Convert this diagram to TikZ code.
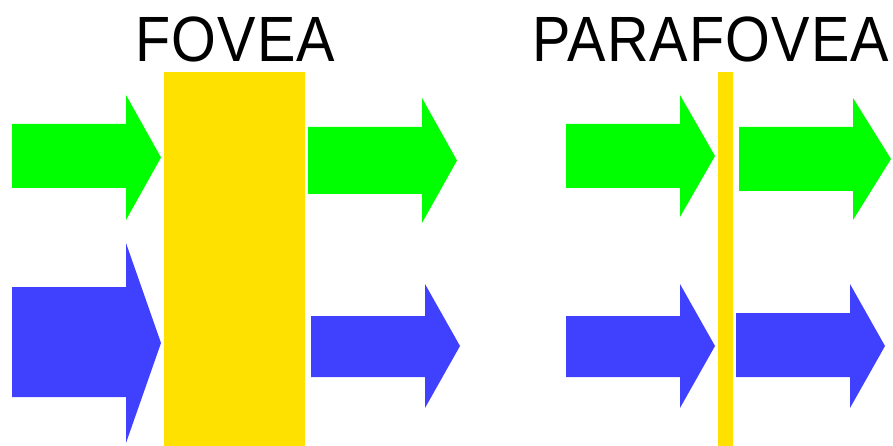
\documentclass[tikz,border=0pt]{standalone}
\usepackage{fontspec}
\setmainfont{Liberation Sans}
\usetikzlibrary{positioning}

\definecolor{fovgreen}{HTML}{00FF00}
\definecolor{fovblue}{HTML}{4040FF}
\definecolor{fovyellow}{HTML}{FFE100}

% #1 colour, #2 start, #3 neck, #4 tip, #5/#6 shaft top/bottom, #7/#8 head top/bottom
\newcommand{\blockarrow}[8]{%
  \fill[#1] (#2,#5) -- (#3,#5) -- (#3,#7) -- (#4,{(#7+#8)/2}) -- (#3,#8) -- (#3,#6) -- (#2,#6) -- cycle;}

\begin{document}
\begin{tikzpicture}[
    x=1pt, y=-1pt,
    title/.style={font=\fontsize{64}{64}\selectfont\addfontfeature{LetterSpace=2}, inner sep=0pt, anchor=base west, xscale=0.9},
    lens/.style={fill=fovyellow}
]
\useasboundingbox (0,0) rectangle (893,446);

% Titles
\node[title] (fovea) at (135,62) {FOVEA};
\node[title] (parafovea) at (532,62) {PARAFOVEA};

% Fovea
\fill[lens] (164,72) rectangle (305,446);
\blockarrow{fovgreen}{12}{126}{161}{124}{188}{95}{220}
\blockarrow{fovblue}{12}{126}{161}{287}{397}{243}{443}
\blockarrow{fovgreen}{308}{422}{457}{127}{194}{98}{223}
\blockarrow{fovblue}{311}{425}{460}{316}{377}{284}{408}

% Parafovea
\fill[lens] (718,72) rectangle (733,446);
\blockarrow{fovgreen}{566}{680}{715}{124}{188}{95}{217}
\blockarrow{fovblue}{566}{680}{715}{316}{377}{284}{408}
\blockarrow{fovgreen}{739}{853}{891}{127}{191}{98}{220}
\blockarrow{fovblue}{736}{850}{885}{313}{377}{284}{408}

\end{tikzpicture}
\end{document}
